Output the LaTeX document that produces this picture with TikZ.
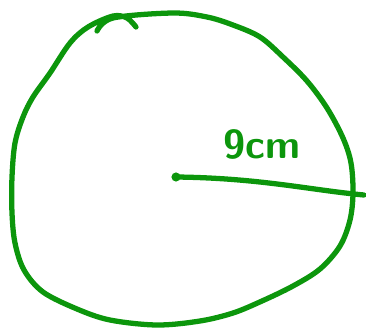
\documentclass[tikz,border=0pt]{standalone}
\usepackage{xcolor}
\usepackage{tikz}
\usetikzlibrary{positioning,calc}
\definecolor{cPen}{HTML}{0C960C}
\tikzset{
  pen/.style   = {draw=cPen, line width=3pt, line cap=round, line join=round},
  lbl/.style   = {text=cPen, font=\sffamily\bfseries\fontsize{23}{25}\selectfont, inner sep=0pt},
}
\begin{document}
\begin{tikzpicture}[x=0.02cm, y=-0.02cm]
  \useasboundingbox (0,0) rectangle (366,329);
  % outline, one stroke with the little hook on top
  \draw[pen] plot[smooth, tension=0.55] coordinates {
    (97,31) (113,18) (173,13) (207,17) (233,25) (260,37) (283,57) (307,81)
    (327,108) (343,138) (351,163) (353,193) (350,220) (340,246) (320,269)
    (293,286) (262,301) (233,313) (200,321) (157,325) (110,320) (77,309)
    (43,292) (24,270) (15,243) (12,213) (12,177) (15,143) (23,117) (33,97)
    (50,73) (70,43) (88,27) (113,16) (127,18) (136,27)};

  \coordinate (ctr) at (176,177);
  \coordinate (rim) at (364,195);
  \fill[cPen] (ctr) circle (2.6pt);
  \draw[pen] (ctr) .. controls (260,178) and (310,190) .. (rim);
  \node[lbl] (rad) at (262,144) {9cm};
\end{tikzpicture}
\end{document}
